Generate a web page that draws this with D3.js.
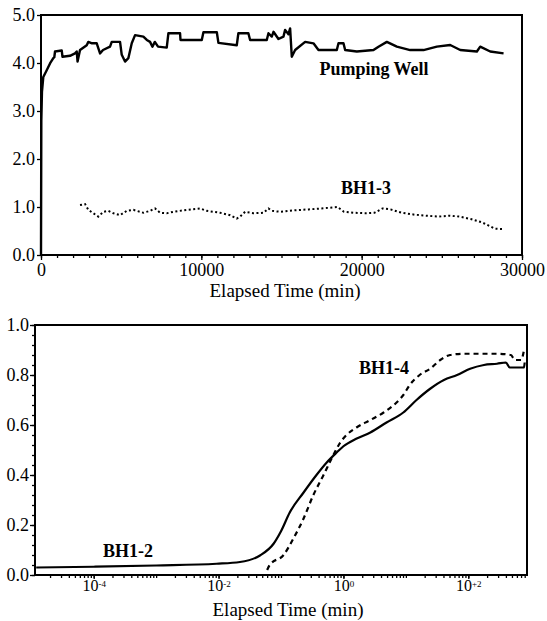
<!DOCTYPE html>
<html lang="en">
<head>
<meta charset="utf-8">
<script src="https://d3js.org/d3.v7.min.js"></script>
<style>
  body { margin: 0; background: #fff; }
  svg { display: block; }
  text { font-family: 'Liberation Serif', 'Times New Roman', serif; fill: #000; }
  .tick line { stroke: #000; stroke-width: 1.3; }
  .lbl { font-size: 18px; font-weight: bold; }
  .title { font-size: 19px; }
</style>
</head>
<body>
<script>
// ---- data ----
// top panel: drawdown vs elapsed time (min), linear time
var pumpingWell = [
  [0, 0], [20, 2.8], [60, 3.4], [144, 3.71], [356, 3.85], [562, 3.99], [768, 4.10], [830, 4.12],
  [874, 4.24], [1292, 4.26], [1340, 4.13], [1810, 4.15], [2122, 4.2], [2228, 4.24], [2280, 4.03],
  [2434, 4.27], [2852, 4.37], [2952, 4.44], [3182, 4.41], [3476, 4.41], [3682, 4.20], [3869, 4.27],
  [4306, 4.34], [4412, 4.44], [4930, 4.44], [5036, 4.17], [5242, 4.03], [5448, 4.1], [5660, 4.41],
  [5866, 4.58], [6385, 4.55], [6600, 4.48], [6802, 4.44], [6950, 4.34], [7100, 4.44], [7300, 4.34],
  [7842, 4.32], [7946, 4.62], [8674, 4.62], [8700, 4.48], [10028, 4.48], [10130, 4.64], [10966, 4.64],
  [11066, 4.42], [12210, 4.37], [12310, 4.62], [12934, 4.62], [13042, 4.48], [14082, 4.48],
  [14186, 4.62], [14394, 4.55], [14500, 4.65], [14810, 4.5], [15122, 4.55], [15226, 4.69],
  [15434, 4.6], [15538, 4.72], [15642, 4.13], [15850, 4.27], [16474, 4.44], [16994, 4.41],
  [17306, 4.27], [18450, 4.27], [18554, 4.41], [18866, 4.41], [18970, 4.27], [19698, 4.24],
  [20738, 4.27], [21050, 4.34], [21570, 4.44], [22194, 4.34], [23026, 4.27], [23858, 4.27],
  [24690, 4.34], [25522, 4.375], [26146, 4.27], [27186, 4.24], [27394, 4.34], [28018, 4.24], [28850, 4.2]
];
var bh13 = [
  [2434, 1.04], [2746, 1.06], [2954, 0.94], [3266, 0.87], [3578, 0.80], [3890, 0.90], [4202, 0.92],
  [4514, 0.87], [4930, 0.83], [5346, 0.92], [5762, 0.94], [6386, 0.88], [6802, 0.92], [7114, 0.97],
  [7426, 0.88], [7842, 0.87], [8258, 0.90], [9090, 0.94], [9922, 0.97], [10338, 0.92], [11170, 0.88],
  [11794, 0.83], [12210, 0.76], [12418, 0.80], [12730, 0.90], [13250, 0.87], [13874, 0.88],
  [14186, 0.97], [14394, 0.92], [14914, 0.90], [15800, 0.93], [16700, 0.95], [17500, 0.97],
  [18500, 1.0], [18900, 0.9], [19500, 0.88], [20200, 0.87], [20800, 0.88], [21300, 0.97],
  [21800, 0.95], [22500, 0.88], [23300, 0.84], [24000, 0.82], [24800, 0.80], [25500, 0.82],
  [26100, 0.8], [26800, 0.75], [27500, 0.68], [28000, 0.6], [28300, 0.55], [28850, 0.54]
];
var topXTicks = [0, 10000, 20000, 30000];
var topYTicks = [0, 1, 2, 3, 4, 5];

// bottom panel: log time
var bh12 = [
  [1.2e-5, 0.03], [1e-4, 0.033], [1e-3, 0.038], [9.3e-3, 0.045], [2.2e-2, 0.052], [4.6e-2, 0.078],
  [7.6e-2, 0.125], [0.1, 0.175], [0.138, 0.25], [0.23, 0.33], [0.37, 0.40], [0.54, 0.45],
  [0.78, 0.49], [1.0, 0.515], [1.6, 0.545], [2.7, 0.57], [4.9, 0.61], [9.1, 0.65], [14.8, 0.70],
  [24.5, 0.745], [40.7, 0.78], [66, 0.80], [107, 0.825], [178, 0.84], [288, 0.845], [400, 0.85],
  [460, 0.83], [780, 0.83], [800, 0.85]
];
var bh14 = [
  [0.06, 0.02], [0.066, 0.04], [0.11, 0.08], [0.158, 0.146], [0.23, 0.226], [0.33, 0.32],
  [0.48, 0.40], [0.69, 0.48], [0.89, 0.53], [1.12, 0.56], [1.62, 0.59], [2.7, 0.62], [4.4, 0.65],
  [7.1, 0.69], [9.1, 0.72], [11.5, 0.76], [16.6, 0.80], [24.5, 0.825], [35.5, 0.86], [51, 0.88],
  [83, 0.885], [300, 0.885], [480, 0.88], [560, 0.86], [700, 0.86], [780, 0.9]
];
var botXTicks = [1e-4, 1e-2, 1, 1e2];
var botXExp = ['-4', '-2', '0', '+2'];
var botYTicks = [0, 0.2, 0.4, 0.6, 0.8, 1.0];

var width = 547, height = 621;
var svg = d3.select('body').append('svg').attr('width', width).attr('height', height);

// ---------- top panel ----------
var x1 = d3.scaleLinear().domain([0, 30000]).range([41, 522]);
var y1 = d3.scaleLinear().domain([0, 5]).range([255, 15]);

var g1 = svg.append('g');
g1.append('g').attr('transform', 'translate(0,255)')
  .call(d3.axisBottom(x1).tickValues(d3.range(0, 30001, 1000)).tickSize(3).tickFormat(''))
  .call(g => g.select('.domain').remove());
g1.append('g').attr('transform', 'translate(0,255)')
  .call(d3.axisBottom(x1).tickValues(topXTicks).tickSize(5).tickPadding(3).tickFormat(d3.format('d')))
  .call(g => g.select('.domain').remove());
g1.append('g').attr('transform', 'translate(41,0)')
  .call(d3.axisLeft(y1).tickValues(topYTicks).tickSize(4).tickPadding(2).tickFormat(d3.format('.1f')))
  .call(g => g.select('.domain').remove());
g1.selectAll('.tick text').style('font-size', '18px');

g1.append('rect').attr('x', 41).attr('y', 15).attr('width', 522 - 41).attr('height', 240)
  .attr('fill', 'none').attr('stroke', '#000').attr('stroke-width', 2);

var line1 = d3.line().x(d => x1(d[0])).y(d => y1(d[1]));
g1.append('path').datum(pumpingWell).attr('d', line1)
  .attr('fill', 'none').attr('stroke', '#000').attr('stroke-width', 2.4).attr('stroke-linejoin', 'round');
g1.append('path').datum(bh13).attr('d', line1)
  .attr('fill', 'none').attr('stroke', '#000').attr('stroke-width', 2).attr('stroke-dasharray', '2,2.5');

g1.append('text').attr('class', 'lbl').attr('x', 374).attr('y', 75).attr('text-anchor', 'middle').text('Pumping Well');
g1.append('text').attr('class', 'lbl').attr('x', 366).attr('y', 194).attr('text-anchor', 'middle').text('BH1-3');
g1.append('text').attr('class', 'title').attr('x', 285).attr('y', 297).attr('text-anchor', 'middle').text('Elapsed Time (min)');

// ---------- bottom panel ----------
var x2 = d3.scaleLog().domain([Math.pow(10, -4.94), Math.pow(10, 2.94)]).range([35, 527]);
var y2 = d3.scaleLinear().domain([0, 1]).range([575, 325]);

var minorLog = [];
for (var e = -5; e <= 2; e++) {
  for (var k = 1; k <= 9; k++) {
    var v = k * Math.pow(10, e);
    if (v >= x2.domain()[0] && v <= x2.domain()[1]) minorLog.push(v);
  }
}

var g2 = svg.append('g');
g2.append('g').attr('transform', 'translate(0,575)')
  .call(d3.axisBottom(x2).tickValues(minorLog).tickSize(3).tickFormat(''))
  .call(g => g.select('.domain').remove());
var xa2 = g2.append('g').attr('transform', 'translate(0,575)')
  .call(d3.axisBottom(x2).tickValues(botXTicks).tickSize(4).tickPadding(1).tickFormat(''))
  .call(g => g.select('.domain').remove());
xa2.selectAll('.tick text').each(function(d, i) {
  var t = d3.select(this).style('font-size', '16px');
  t.append('tspan').text('10');
  t.append('tspan').attr('dy', '-0.5em').style('font-size', '9px').text(botXExp[i]);
});
g2.append('g').attr('transform', 'translate(35,0)')
  .call(d3.axisLeft(y2).tickValues(d3.range(0, 1.001, 0.04)).tickSize(3).tickFormat(''))
  .call(g => g.select('.domain').remove());
g2.append('g').attr('transform', 'translate(35,0)')
  .call(d3.axisLeft(y2).tickValues(botYTicks).tickSize(5).tickPadding(1).tickFormat(d3.format('.1f')))
  .call(g => g.select('.domain').remove())
  .selectAll('.tick text').style('font-size', '18px');

g2.append('rect').attr('x', 35).attr('y', 325).attr('width', 527 - 35).attr('height', 250)
  .attr('fill', 'none').attr('stroke', '#000').attr('stroke-width', 2);

var line2 = d3.line().curve(d3.curveMonotoneX).x(d => x2(d[0])).y(d => y2(d[1]));
g2.append('path').datum(bh12).attr('d', line2)
  .attr('fill', 'none').attr('stroke', '#000').attr('stroke-width', 2.2).attr('stroke-linejoin', 'round');
g2.append('path').datum(bh14).attr('d', line2)
  .attr('fill', 'none').attr('stroke', '#000').attr('stroke-width', 2.2).attr('stroke-dasharray', '5,4');

g2.append('text').attr('class', 'lbl').attr('x', 384).attr('y', 374).attr('text-anchor', 'middle').text('BH1-4');
g2.append('text').attr('class', 'lbl').attr('x', 128).attr('y', 557).attr('text-anchor', 'middle').text('BH1-2');
g2.append('text').attr('class', 'title').attr('x', 288).attr('y', 616).attr('text-anchor', 'middle').text('Elapsed Time (min)');
</script>
</body>
</html>
